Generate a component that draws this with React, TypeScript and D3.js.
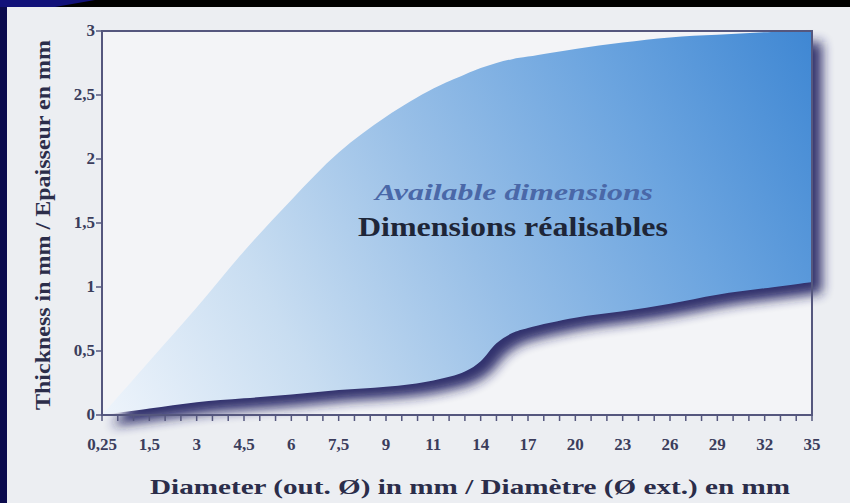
import React from "react";
import * as d3 from "d3";

// x axis tick labels (equally spaced on the chart, not linear)
const diameterTicks = [0.25, 1.5, 3, 4.5, 6, 7.5, 9, 11, 14, 17, 20, 23, 26, 29, 32, 35];
const diameterLabels = ["0,25", "1,5", "3", "4,5", "6", "7,5", "9", "11", "14", "17", "20", "23", "26", "29", "32", "35"];
const thicknessTicks = [0, 0.5, 1, 1.5, 2, 2.5, 3];
const thicknessLabels = ["0", "0,5", "1", "1,5", "2", "2,5", "3"];

// boundary curves of the feasible region
const diameters = [0.25, 1.5, 3, 4.5, 6, 7.5, 9, 11, 13, 14, 15, 16, 17, 20, 23, 26, 29, 32, 35];
const maxThickness = [0, 0.42, 0.84, 1.28, 1.68, 2.05, 2.33, 2.55, 2.66, 2.71, 2.75, 2.78, 2.8, 2.86, 2.91, 2.95, 2.97, 2.99, 3.0];
const minThickness = [0, 0.05, 0.1, 0.13, 0.16, 0.195, 0.22, 0.27, 0.34, 0.42, 0.56, 0.64, 0.68, 0.76, 0.81, 0.87, 0.94, 0.99, 1.04];

const W = 850;
const H = 503;
const left = 102;
const right = 812;
const top = 31;
const bottom = 415;

const serif = "'Liberation Serif', 'Times New Roman', serif";

export default function App() {
  const step = (right - left) / (diameterTicks.length - 1);
  // piecewise linear: each labelled diameter sits on an equal step
  const x = d3
    .scaleLinear()
    .domain(diameterTicks)
    .range(diameterTicks.map((_, i) => left + i * step));
  const y = d3.scaleLinear().domain([0, 3]).range([bottom, top]);

  const rows = diameters.map((d, i) => ({ d, lo: minThickness[i], hi: maxThickness[i] }));

  const area = d3
    .area<{ d: number; lo: number; hi: number }>()
    .x((r) => x(r.d))
    .y0((r) => y(r.lo))
    .y1((r) => y(r.hi))
    .curve(d3.curveCatmullRom.alpha(0.5));
  const areaPath = area(rows) || "";

  // minor ticks: 3 per labelled interval
  const minor: number[] = d3.range(0, (diameterTicks.length - 1) * 3 + 1).map((k) => left + (k * step) / 3);

  return (
    <svg
      width={W}
      height={H}
      style={{ position: "absolute", left: 0, top: 0, display: "block" }}
    >
      <defs>
        <linearGradient id="fillGrad" gradientUnits="userSpaceOnUse" x1={left} y1={bottom} x2={right} y2={top}>
          <stop offset="0" stopColor="#eef4fb" />
          <stop offset="0.25" stopColor="#c8ddf1" />
          <stop offset="0.5" stopColor="#98bfe7" />
          <stop offset="0.75" stopColor="#6ba4df" />
          <stop offset="1" stopColor="#3f87d3" />
        </linearGradient>
        <filter id="shadowBlur" x="-10%" y="-10%" width="130%" height="130%">
          <feGaussianBlur stdDeviation="6" />
        </filter>
      </defs>

      {/* outer frame of the slide */}
      <rect x={0} y={0} width={W} height={H} fill="#0b0b4e" />
      <rect x={0} y={0} width={W} height={7} fill="#000000" />
      <polygon points="0,0 95,0 55,7 0,7" fill="#12127a" />
      <rect x={7} y={7} width={W - 7} height={H - 7} fill="#eceef2" />
      <rect x={left} y={top} width={right - left} height={bottom - top} fill="#f3f4f7" />

      {/* shadow */}
      <path d={areaPath} transform="translate(10,11)" fill="#1d1f5e" opacity={0.9} filter="url(#shadowBlur)" />
      {/* area */}
      <path d={areaPath} fill="url(#fillGrad)" />

      {/* frame */}
      <rect x={left} y={top} width={right - left} height={bottom - top} fill="none" stroke="#55577e" strokeWidth={2} />

      {/* y ticks */}
      {thicknessTicks.map((t, i) => (
        <g key={"y" + t}>
          <line x1={left - 6} x2={left} y1={y(t)} y2={y(t)} stroke="#55577e" strokeWidth={1.5} />
          <text
            x={left - 7}
            y={y(t) + 5}
            textAnchor="end"
            fontFamily={serif}
            fontWeight="bold"
            fontSize={17}
            fill="#3b3d5c"
          >
            {thicknessLabels[i]}
          </text>
        </g>
      ))}

      {/* x ticks */}
      {minor.map((px, i) => (
        <line key={"m" + i} x1={px} x2={px} y1={bottom} y2={bottom + 6} stroke="#55577e" strokeWidth={1.5} />
      ))}
      {diameterTicks.map((t, i) => (
        <text
          key={"x" + t}
          x={x(t)}
          y={450}
          textAnchor="middle"
          fontFamily={serif}
          fontWeight="bold"
          fontSize={17}
          fill="#3b3d5c"
        >
          {diameterLabels[i]}
        </text>
      ))}

      {/* axis titles */}
      <text
        x={470}
        y={494}
        textAnchor="middle"
        fontFamily={serif}
        fontWeight="bold"
        fontSize={22}
        textLength={640}
        lengthAdjust="spacingAndGlyphs"
        fill="#2b2d4a"
      >
        Diameter (out. Ø) in mm / Diamètre (Ø ext.) en mm
      </text>
      <text
        transform={`translate(50,${(top + bottom) / 2 + 2}) rotate(-90)`}
        textAnchor="middle"
        fontFamily={serif}
        fontWeight="bold"
        fontSize={22}
        textLength={370}
        lengthAdjust="spacingAndGlyphs"
        fill="#2b2d4a"
      >
        Thickness in mm / Epaisseur en mm
      </text>

      {/* labels inside the region */}
      <text
        x={514}
        y={200}
        textAnchor="middle"
        fontFamily={serif}
        fontWeight="bold"
        fontStyle="italic"
        fontSize={24}
        textLength={278}
        lengthAdjust="spacingAndGlyphs"
        fill="#4a68a8"
      >
        Available dimensions
      </text>
      <text
        x={513}
        y={236}
        textAnchor="middle"
        fontFamily={serif}
        fontWeight="bold"
        fontSize={27}
        textLength={310}
        lengthAdjust="spacingAndGlyphs"
        fill="#1e2638"
      >
        Dimensions réalisables
      </text>
    </svg>
  );
}
